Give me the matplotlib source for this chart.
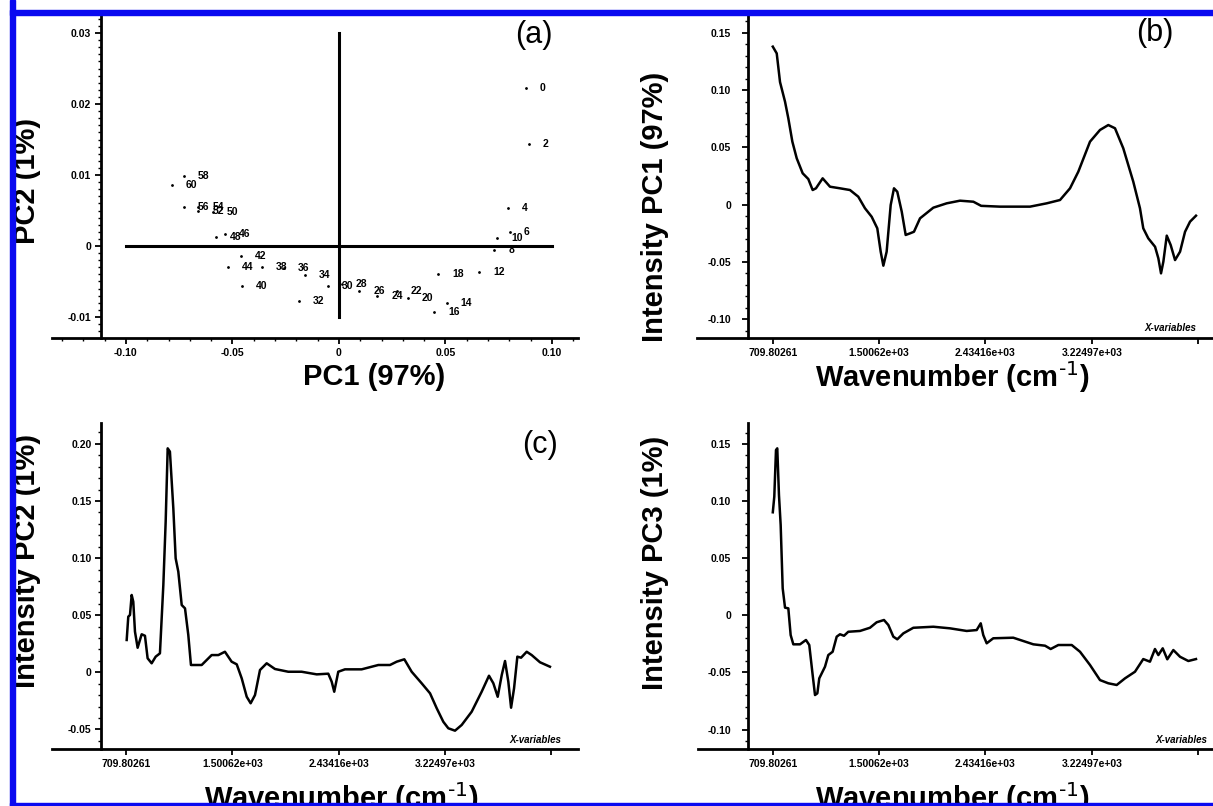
import matplotlib
matplotlib.use("Agg")
import matplotlib.pyplot as plt
from matplotlib.patches import Rectangle
from matplotlib.ticker import MultipleLocator
import numpy as np

plt.rcParams['font.family'] = ['Liberation Sans', 'DejaVu Sans']
plt.rcParams['mathtext.default'] = 'regular'

W, H = 1213, 806

# ---- (a) score plot data ----
sample_ids = [0, 2, 4, 6, 8, 10, 12, 14, 16, 18, 20, 22, 24, 26, 28, 30,
              32, 34, 36, 38, 40, 42, 44, 46, 48, 50, 52, 54, 56, 58, 60]
pc1_scores = [0.0879, 0.0890, 0.0793, 0.0803, 0.0729, 0.0743, 0.0659, 0.0506,
              0.0448, 0.0466, 0.0322, 0.0271, 0.0180, 0.0096, 0.0013, -0.0050,
              -0.0188, -0.0160, -0.0258, -0.0363, -0.0457, -0.0460, -0.0523,
              -0.0535, -0.0579, -0.0590, -0.0660, -0.0660, -0.0726, -0.0726,
              -0.0786]
pc2_scores = [0.0223, 0.0144, 0.0053, 0.0020, -0.0006, 0.0011, -0.0036, -0.0081,
              -0.0093, -0.0039, -0.0073, -0.0063, -0.0071, -0.0063, -0.0054,
              -0.0057, -0.0078, -0.0041, -0.0031, -0.0029, -0.0057, -0.0014,
              -0.0030, 0.0017, 0.0013, 0.0048, 0.0050, 0.0055, 0.0055, 0.0098,
              0.0086]

# ---- loadings (x = position along the X-variables, ticks at 0..4) ----
wn_labels = ['709.80261', '1.50062e+03', '2.43416e+03', '3.22497e+03', '']

pc1_pos = [0.0, 0.037, 0.068, 0.115, 0.146, 0.184, 0.225, 0.281, 0.334, 0.375,
           0.406, 0.469, 0.538, 0.632, 0.726, 0.804, 0.867, 0.930, 0.983, 1.015,
           1.040, 1.071, 1.109, 1.140, 1.171, 1.213, 1.250, 1.291, 1.328, 1.385,
           1.510, 1.636, 1.761, 1.887, 1.960, 2.137, 2.420, 2.577, 2.702, 2.796,
           2.874, 2.984, 3.078, 3.156, 3.219, 3.297, 3.391, 3.454, 3.485, 3.532,
           3.596, 3.627, 3.652, 3.674, 3.706, 3.743, 3.784, 3.831, 3.878, 3.925,
           3.981]
pc1_load = [0.1379, 0.132, 0.107, 0.0899, 0.0754, 0.055, 0.0405, 0.0274, 0.0224,
            0.0128, 0.0143, 0.023, 0.0157, 0.0143, 0.0128, 0.0070, -0.0031,
            -0.0105, -0.0206, -0.041, -0.0532, -0.041, -0.0003, 0.0143, 0.0113,
            -0.0061, -0.0264, -0.025, -0.0236, -0.0119, -0.0026, 0.0012, 0.0035,
            0.0026, -0.0010, -0.0017, -0.0017, 0.0012, 0.0041, 0.0143, 0.0288,
            0.055, 0.0652, 0.0695, 0.0667, 0.0492, 0.0201, -0.0031, -0.0206,
            -0.0293, -0.0367, -0.0468, -0.0599, -0.0497, -0.027, -0.0352,
            -0.0483, -0.041, -0.0236, -0.0148, -0.0096]

pc2_pos = [0.004, 0.019, 0.035, 0.051, 0.066, 0.082, 0.107, 0.145, 0.176, 0.201,
           0.239, 0.277, 0.317, 0.349, 0.371, 0.390, 0.411, 0.443, 0.465, 0.490,
           0.522, 0.553, 0.584, 0.609, 0.710, 0.804, 0.867, 0.929, 0.992, 1.040,
           1.087, 1.134, 1.171, 1.212, 1.259, 1.322, 1.400, 1.525, 1.651, 1.793,
           1.902, 1.934, 1.958, 1.996, 2.059, 2.216, 2.373, 2.483, 2.546, 2.618,
           2.687, 2.781, 2.860, 2.923, 2.985, 3.032, 3.095, 3.158, 3.252, 3.346,
           3.415, 3.456, 3.497, 3.535, 3.566, 3.597, 3.623, 3.651, 3.682, 3.717,
           3.770, 3.817, 3.895, 3.989]
pc2_load = [0.0283, 0.0487, 0.0502, 0.0677, 0.0618, 0.0356, 0.0215, 0.0333, 0.032,
            0.0123, 0.0079, 0.0137, 0.0166, 0.0764, 0.1319, 0.1961, 0.1932,
            0.1436, 0.0998, 0.0881, 0.0589, 0.056, 0.0327, 0.0064, 0.0064,
            0.0151, 0.0151, 0.018, 0.0093, 0.007, -0.0053, -0.0214, -0.0271,
            -0.0199, 0.002, 0.0079, 0.0029, 0.0005, 0.0005, -0.0018, -0.0012,
            -0.0082, -0.017, 0.0005, 0.0026, 0.0026, 0.0064, 0.0064, 0.0093,
            0.0114, 0.0005, -0.0096, -0.0184, -0.0315, -0.0433, -0.049, -0.0511,
            -0.0461, -0.0345, -0.017, -0.003, -0.0096, -0.0214, -0.0024, 0.0099,
            -0.0082, -0.031, -0.014, 0.0137, 0.0128, 0.018, 0.0151, 0.0088,
            0.0049]

pc3_pos = [0.0, 0.014, 0.030, 0.042, 0.058, 0.074, 0.093, 0.115, 0.146, 0.168,
           0.193, 0.256, 0.312, 0.343, 0.375, 0.397, 0.419, 0.437, 0.491, 0.522,
           0.563, 0.601, 0.632, 0.670, 0.710, 0.820, 0.914, 0.977, 1.046, 1.087,
           1.134, 1.171, 1.228, 1.322, 1.510, 1.667, 1.824, 1.918, 1.956, 1.980,
           2.012, 2.074, 2.262, 2.451, 2.561, 2.614, 2.686, 2.812, 2.890, 2.984,
           3.078, 3.156, 3.235, 3.313, 3.407, 3.485, 3.548, 3.595, 3.627, 3.668,
           3.711, 3.768, 3.831, 3.909, 3.981]
pc3_load = [0.0902, 0.1039, 0.1447, 0.1462, 0.1053, 0.0791, 0.0236, 0.0067,
            0.0061, -0.0173, -0.0254, -0.0254, -0.0216, -0.026, -0.0523, -0.0698,
            -0.0683, -0.0552, -0.045, -0.0348, -0.0319, -0.0187, -0.0166,
            -0.0179, -0.0144, -0.0137, -0.0109, -0.0061, -0.0041, -0.0085,
            -0.0187, -0.021, -0.0158, -0.0109, -0.01, -0.0114, -0.0137, -0.0129,
            -0.007, -0.0173, -0.0245, -0.0201, -0.0196, -0.0254, -0.0266,
            -0.0295, -0.026, -0.026, -0.0319, -0.0435, -0.0567, -0.0595, -0.061,
            -0.0552, -0.0494, -0.0383, -0.0406, -0.0295, -0.0348, -0.0289,
            -0.0385, -0.0304, -0.0363, -0.04, -0.0383]


def px_rect(l, t, r, b):
    return [l / W, 1 - b / H, (r - l) / W, (b - t) / H]


def fig_xy(x, y):
    return x / W, 1 - y / H


fig = plt.figure(figsize=(W / 100, H / 100), dpi=100)

label_font = dict(fontsize=21, fontweight='bold')
tick_font = 7.5
wn_title = r'Wavenumber (cm$^{\text{-1}}$)'


def style_axes(ax, spine_frac, pad):
    ax.patch.set_visible(False)
    ax.spines['top'].set_visible(False)
    ax.spines['right'].set_visible(False)
    ax.spines['left'].set_position(('axes', spine_frac))
    ax.spines['left'].set_linewidth(2)
    ax.spines['bottom'].set_linewidth(2)
    ax.tick_params(which='major', direction='out', length=4, width=1.3,
                   labelsize=tick_font)
    ax.tick_params(axis='y', pad=pad)
    ax.tick_params(axis='x', pad=3)
    ax.tick_params(which='minor', direction='out', length=2.5, width=1)
    for t in ax.get_xticklabels() + ax.get_yticklabels():
        t.set_fontweight('bold')


# ---- (a) scores ----
ax_a = fig.add_axes(px_rect(52, 15, 578, 338))
ax_a.set_xlim(-0.1347, 0.1122)
ax_a.set_ylim(-0.01296, 0.03254)
ax_a.plot(pc1_scores, pc2_scores, linestyle='none', marker='.', markersize=2,
          color='black')
for sid, x, y in zip(sample_ids, pc1_scores, pc2_scores):
    ax_a.annotate(str(sid), (x, y), xytext=(10, 0), textcoords='offset points',
                  ha='left', va='center', fontsize=7.5, fontweight='bold')
ax_a.plot([-0.10, 0.10], [0, 0], color='black', linewidth=2.2)
ax_a.plot([0, 0], [-0.01, 0.03], color='black', linewidth=2.2)
ax_a.set_xticks([-0.10, -0.05, 0, 0.05, 0.10])
ax_a.set_xticklabels(['-0.10', '-0.05', '0', '0.05', '0.10'])
ax_a.set_yticks([-0.01, 0, 0.01, 0.02, 0.03])
ax_a.set_yticklabels(['-0.01', '0', '0.01', '0.02', '0.03'])
ax_a.xaxis.set_minor_locator(MultipleLocator(0.01))
ax_a.yaxis.set_minor_locator(MultipleLocator(0.001))
style_axes(ax_a, (101 - 52) / 526, 3)


def spectrum(rect, spine_frac, xlim, ylim, pos, vals, yticks, ylabels, pad):
    ax = fig.add_axes(rect)
    ax.set_xlim(xlim)
    ax.set_ylim(ylim)
    ax.plot(pos, vals, color='black', linewidth=1.8)
    ax.set_xticks(range(5))
    ax.set_xticklabels(wn_labels)
    ax.set_yticks(yticks)
    ax.set_yticklabels(ylabels)
    ax.yaxis.set_minor_locator(MultipleLocator(0.01))
    style_axes(ax, spine_frac, pad)
    return ax


# ---- (b) PC1 loadings ----
spectrum(px_rect(697, 15, 1213, 338), (747.8 - 697) / 516,
         (-0.713, 4.141), (-0.1163, 0.1655), pc1_pos, pc1_load,
         [-0.10, -0.05, 0, 0.05, 0.10, 0.15],
         ['-0.10', '-0.05', '0', '0.05', '0.10', '0.15'], 8)

# ---- (c) PC2 loadings ----
spectrum(px_rect(51.7, 423.3, 578, 749.3), (101.4 - 51.7) / 526.3,
         (-0.702, 4.253), (-0.0674, 0.218), pc2_pos, pc2_load,
         [-0.05, 0, 0.05, 0.10, 0.15, 0.20],
         ['-0.05', '0', '0.05', '0.10', '0.15', '0.20'], 3)

# ---- (d) PC3 loadings ----
spectrum(px_rect(697.7, 423.3, 1213, 749.3), (747.8 - 697.7) / 515.3,
         (-0.7065, 4.141), (-0.1173, 0.1681), pc3_pos, pc3_load,
         [-0.10, -0.05, 0, 0.05, 0.10, 0.15],
         ['-0.10', '-0.05', '0', '0.05', '0.10', '0.15'], 8)

# axis titles
fig.text(*fig_xy(374, 377), 'PC1 (97%)', ha='center', va='center', **label_font)
fig.text(*fig_xy(27, 181), 'PC2 (1%)', ha='center', va='center', rotation=90, **label_font)
fig.text(*fig_xy(952, 377), wn_title, ha='center', va='center', **label_font)
fig.text(*fig_xy(655, 207), 'Intensity PC1 (97%)', ha='center', va='center', rotation=90, **label_font)
fig.text(*fig_xy(341, 798), wn_title, ha='center', va='center', **label_font)
fig.text(*fig_xy(27, 561), 'Intensity PC2 (1%)', ha='center', va='center', rotation=90, **label_font)
fig.text(*fig_xy(952, 798), wn_title, ha='center', va='center', **label_font)
fig.text(*fig_xy(655, 563), 'Intensity PC3 (1%)', ha='center', va='center', rotation=90, **label_font)

# panel letters
fig.text(*fig_xy(534, 35), '(a)', ha='center', va='center', fontsize=22)
fig.text(*fig_xy(1155, 33), '(b)', ha='center', va='center', fontsize=22)
fig.text(*fig_xy(540, 445), '(c)', ha='center', va='center', fontsize=22)

# X-variables tags
for x, y in [(1144, 328), (509, 740), (1155, 740)]:
    fig.text(*fig_xy(x, y), 'X-variables', ha='left', va='center', fontsize=7,
             fontweight='bold', style='italic')

# blue frame
blue = '#0a0af0'
fig.patches.append(Rectangle(fig_xy(9.5, 806), 5.8 / W, 806 / H,
                             transform=fig.transFigure, color=blue, zorder=5))
fig.patches.append(Rectangle(fig_xy(9.5, 15.3), (W - 9.5) / W, 5.3 / H,
                             transform=fig.transFigure, color=blue, zorder=5))
fig.patches.append(Rectangle(fig_xy(9.5, 806), (W - 9.5) / W, 3 / H,
                             transform=fig.transFigure, color=blue, zorder=5))

fig.savefig('out.png', dpi=100)
